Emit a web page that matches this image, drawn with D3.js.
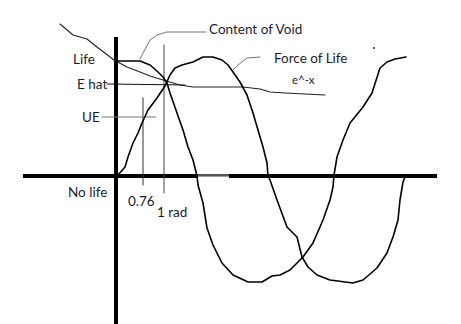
<!DOCTYPE html>
<html>
<head>
<meta charset="utf-8">
<script src="https://cdn.jsdelivr.net/npm/d3@7"></script>
<style>
  html, body { margin: 0; padding: 0; background: #fff; }
  text { font-family: Lato, "Open Sans", sans-serif; fill: #1c1c2c; }
</style>
</head>
<body>
<script>
// sketch of life vs void, units are offsets from the origin (y up)
const w = 461, h = 324

const forceOfLife = [[0,0],[2,1],[9,9],[12,19],[17,33],[22,43],[26,53],[32,66],[41,78],[49,90],[54,101],[59,108],[66,111],[77,114],[87,119],[97,119],[106,116],[112,111],[117,104],[124,94],[131,81],[137,63],[142,46],[147,29],[151,13],[152,0],[154,-4],[161,-24],[171,-51],[181,-61],[186,-81],[192,-91],[201,-99],[214,-104],[237,-107],[247,-104],[261,-92],[271,-77],[277,-61],[282,-44],[284,-24],[287,-6],[289,-1]]

const contentOfVoid = [[1,115],[24,115],[34,111],[42,104],[47,99],[51,93],[54,83],[61,63],[67,46],[72,29],[77,16],[81,0],[82,-9],[87,-27],[91,-52],[97,-69],[106,-87],[117,-99],[132,-106],[146,-106],[156,-100],[164,-99],[174,-94],[187,-81],[197,-67],[207,-44],[214,-24],[217,-11],[218,1],[221,19],[227,36],[234,53],[247,69],[256,83],[264,108],[271,114],[279,117],[290,119]]

const eNegX = [[-56,152],[-43,141],[-29,137],[-19,129],[-2,116],[11,109],[24,104],[34,100],[47,96],[57,93],[64,91],[77,89],[127,89],[144,87],[154,84],[169,83],[209,81]]

const contentLeader = [[24,117],[27,123],[34,136],[41,141],[51,144],[90,144]]
const forceLeader = [[117,106],[122,111],[131,118],[144,119]]
const eHatLine = [[-9,92],[69,91]]
const ueLine = [[-14,59],[40,59]]
const tick076 = [[27,78],[27,-9]]
const tick1rad = [[48,131],[48,-17]]

const xAxisRange = [-93, 321]
const xAxisThin = [82, 113]
const yAxisRange = [139, -148]
const stray = [258, 128]

const labels = ['Life', 'E hat', 'UE', 'No life', '0.76', '1 rad', 'Content of Void', 'Force of Life', 'e^-x']
const labelPos = [[-43,112],[-39,87],[-34,54],[-48,-21],[12,-30],[41,-41],[93,142],[158,113],[176,92]]

const x = d3.scaleLinear().domain([-116, 345]).range([0, w])
const y = d3.scaleLinear().domain([176, -148]).range([0, h])

const svg = d3.select('body').append('svg')
    .attr('width', w)
    .attr('height', h)

const line = d3.line()
    .x(d => x(d[0]))
    .y(d => y(d[1]))

function stroke(data, color, width) {
    return svg.append('path')
        .attr('d', line(data))
        .attr('fill', 'none')
        .attr('stroke', color)
        .attr('stroke-width', width)
        .attr('stroke-linejoin', 'round')
        .attr('stroke-linecap', 'round')
}

// axes
stroke([[xAxisRange[0], 0], [xAxisRange[1], 0]], '#000', 4).attr('stroke-linecap', 'butt')
svg.append('line')
    .attr('x1', x(xAxisThin[0])).attr('x2', x(xAxisThin[1]))
    .attr('y1', y(0)).attr('y2', y(0))
    .attr('stroke', '#fff').attr('stroke-width', 5)
stroke([[xAxisThin[0], 0.7], [xAxisThin[1], 0.7]], '#555', 2.6).attr('stroke-linecap', 'butt')
stroke([[0, yAxisRange[0]], [0, yAxisRange[1]]], '#000', 4).attr('stroke-linecap', 'butt')

// guides
stroke(tick076, '#333', 1)
stroke(tick1rad, '#444', 1)
stroke(ueLine, '#777', 1)
stroke(eHatLine, '#111', 1)
stroke(contentLeader, '#777', 1)
stroke(forceLeader, '#777', 1)

// curves
stroke(eNegX, '#222', 1.1)
stroke(contentOfVoid, '#000', 1.6)
stroke(forceOfLife, '#000', 1.6)

svg.append('circle')
    .attr('cx', x(stray[0])).attr('cy', y(stray[1]))
    .attr('r', 1).attr('fill', '#333')

svg.selectAll('text.lbl')
    .data(labels)
    .enter().append('text')
    .attr('class', 'lbl')
    .attr('x', (d, i) => x(labelPos[i][0]))
    .attr('y', (d, i) => y(labelPos[i][1]))
    .attr('font-size', d => d === 'e^-x' ? 11.5 : 13.5)
    .text(d => d)
</script>
</body>
</html>
